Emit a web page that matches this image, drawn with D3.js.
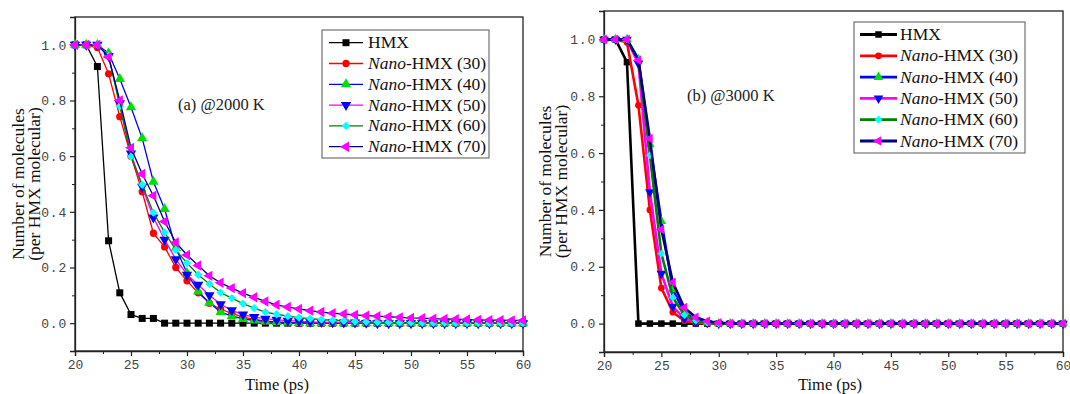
<!DOCTYPE html>
<html><head><meta charset="utf-8">
<script src="https://cdn.jsdelivr.net/npm/d3@7"></script>
<style>body{margin:0;background:#fff}svg{display:block}</style>
</head><body><svg id="c" width="1070" height="394"></svg>
<script>
// ---- data ----
const time = [20,21,22,23,24,25,26,27,28,29,30,31,32,33,34,35,36,37,38,39,40,41,42,43,44,45,46,47,48,49,50,51,52,53,54,55,56,57,58,59,60];
const seriesNames = ["HMX","Nano-HMX (30)","Nano-HMX (40)","Nano-HMX (50)","Nano-HMX (60)","Nano-HMX (70)"];
const xTicks = [20,25,30,35,40,45,50,55,60];
const yTicks = [0.0,0.2,0.4,0.6,0.8,1.0];
const panelTitles = ["(a) @2000 K","(b) @3000 K"];

// (a) 2000 K
const a_HMX = [1,1,0.922,0.296,0.109,0.031,0.017,0.017,0,0,0,0,0,0,0,0,0,0,0,0,0,0,0,0,0,0,0,0,0,0,0,0,0,0,0,0,0,0,0,0,0];
const a_N30 = [1,1,0.99,0.896,0.742,0.6,0.472,0.323,0.274,0.2,0.152,0.109,0.072,0.05,0.035,0.022,0.014,0.008,0.004,0.002,0,0,0,0,0,0,0,0,0,0,0,0,0,0,0,0,0,0,0,0,0];
const a_N40 = [1,1,1,0.97,0.877,0.776,0.664,0.508,0.41,0.27,0.18,0.114,0.073,0.04,0.026,0.015,0.01,0.006,0.004,0.002,0.001,0,0,0,0,0,0,0,0,0,0,0,0,0,0,0,0,0,0,0,0];
const a_N50 = [1,1,1,0.96,0.79,0.61,0.49,0.38,0.3,0.23,0.174,0.138,0.1,0.068,0.046,0.031,0.022,0.016,0.012,0.009,0.007,0.005,0.004,0.003,0.002,0.002,0.001,0,0,0,0,0,0,0,0,0,0,0,0,0,0];
const a_N60 = [1,1,1,0.96,0.78,0.598,0.497,0.397,0.326,0.263,0.216,0.174,0.141,0.11,0.09,0.07,0.054,0.04,0.032,0.025,0.02,0.016,0.013,0.01,0.008,0.006,0.005,0.004,0.003,0.002,0.002,0.001,0.001,0.001,0,0,0,0,0,0,0];
const a_N70 = [1,1,1,0.956,0.8,0.63,0.536,0.458,0.365,0.29,0.245,0.207,0.17,0.145,0.126,0.108,0.093,0.078,0.066,0.058,0.051,0.045,0.04,0.036,0.033,0.03,0.027,0.025,0.023,0.021,0.019,0.018,0.016,0.015,0.014,0.013,0.012,0.011,0.011,0.01,0.01];

// (b) 3000 K
const b_HMX = [1,1,0.92,0,0,0,0,0,0,0,0,0,0,0,0,0,0,0,0,0,0,0,0,0,0,0,0,0,0,0,0,0,0,0,0,0,0,0,0,0,0];
const b_N30 = [1,1,0.99,0.768,0.4,0.125,0.04,0.01,0.003,0,0,0,0,0,0,0,0,0,0,0,0,0,0,0,0,0,0,0,0,0,0,0,0,0,0,0,0,0,0,0,0];
const b_N40 = [1,1,1,0.93,0.63,0.36,0.12,0.04,0.012,0.004,0,0,0,0,0,0,0,0,0,0,0,0,0,0,0,0,0,0,0,0,0,0,0,0,0,0,0,0,0,0,0];
const b_N50 = [1,1,1,0.915,0.463,0.176,0.06,0.018,0.006,0.002,0,0,0,0,0,0,0,0,0,0,0,0,0,0,0,0,0,0,0,0,0,0,0,0,0,0,0,0,0,0,0];
const b_N60 = [1,1,1,0.93,0.592,0.246,0.092,0.03,0.01,0.003,0,0,0,0,0,0,0,0,0,0,0,0,0,0,0,0,0,0,0,0,0,0,0,0,0,0,0,0,0,0,0];
const b_N70 = [1,1,1,0.927,0.651,0.331,0.145,0.056,0.022,0.008,0.003,0,0,0,0,0,0,0,0,0,0,0,0,0,0,0,0,0,0,0,0,0,0,0,0,0,0,0,0,0,0];

// ---- styles ----
const lineColors   = ["#000000","#ff0000","#0000ff","#ff00ff","#008000","#000080"];
const markerColors = ["#000000","#ff0000","#00dd00","#0000ff","#00ffff","#ff00ff"];
const markerKinds  = ["square","circle","up","down","diamond","left"];

const panels = [
  {series:[a_HMX,a_N30,a_N40,a_N50,a_N60,a_N70], x0:75, x1:523, y0:17, y1:351, lw:1.3, ms:7,
   title:{x:178,y:110}, legend:{x:322,y:30,w:167,h:128,row0:42.7,dy:20.8,l0:329,l1:363,tx:368,lw:1.3},
   ylab:[18,34], xlabX:277},
  {series:[b_HMX,b_N30,b_N40,b_N50,b_N60,b_N70], x0:604, x1:1063, y0:11, y1:352, lw:2.6, ms:6.5,
   title:{x:687,y:101}, legend:{x:854,y:22,w:171,h:131,row0:34.5,dy:21.3,l0:860,l1:897,tx:900,lw:2.8},
   ylab:[545,561], xlabX:830}
];

const svg = d3.select("#c");
const serif = "'Liberation Serif','Times New Roman',serif";
const mono = "'Liberation Mono','DejaVu Sans Mono',monospace";

function markerPath(kind, s){
  const a = s*s;
  switch(kind){
    case "square": return {d:d3.symbol(d3.symbolSquare, a)(), r:0};
    case "circle": return {d:d3.symbol(d3.symbolCircle, a*0.85)(), r:0};
    case "up": return {d:d3.symbol(d3.symbolTriangle, a*0.95)(), r:0};
    case "down": return {d:d3.symbol(d3.symbolTriangle, a*0.95)(), r:180};
    case "left": return {d:d3.symbol(d3.symbolTriangle, a*0.95)(), r:-90};
    case "diamond": return {d:d3.symbol(d3.symbolSquare, a*0.7)(), r:45};
  }
}

panels.forEach((p, pi) => {
  const x = d3.scaleLinear().domain([20,60]).range([p.x0,p.x1]);
  const y = d3.scaleLinear().domain([-0.1,1.1]).range([p.y1,p.y0]);
  const g = svg.append("g");

  // frame
  g.append("rect").attr("x",p.x0).attr("y",p.y0).attr("width",p.x1-p.x0).attr("height",p.y1-p.y0)
    .attr("fill","none").attr("stroke","#222").attr("stroke-width",1.3);

  // x axis
  const xa = g.append("g").attr("transform",`translate(0,${p.y1})`)
    .call(d3.axisBottom(x).tickValues(xTicks).tickSize(5).tickPadding(4).tickFormat(d3.format("d")));
  xa.select(".domain").attr("stroke","#222").attr("stroke-width",1.3);
  xa.selectAll("line").attr("stroke","#222").attr("stroke-width",1.2);
  xa.selectAll("text").attr("font-family",mono).attr("font-size",13).attr("fill","#444");
  g.append("g").attr("transform",`translate(0,${p.y1})`)
    .call(d3.axisBottom(x).tickValues([22.5,27.5,32.5,37.5,42.5,47.5,52.5,57.5]).tickSize(3).tickFormat(""))
    .call(s=>{s.select(".domain").remove(); s.selectAll("line").attr("stroke","#222");});

  // y axis
  const ya = g.append("g").attr("transform",`translate(${p.x0},0)`)
    .call(d3.axisLeft(y).tickValues(yTicks).tickSize(5).tickPadding(3).tickFormat(d3.format(".1f")));
  ya.select(".domain").attr("stroke","#222").attr("stroke-width",1.3);
  ya.selectAll("line").attr("stroke","#222").attr("stroke-width",1.2);
  ya.selectAll("text").attr("font-family",mono).attr("font-size",13).attr("fill","#444").attr("letter-spacing","0.8px");
  g.append("g").attr("transform",`translate(${p.x0},0)`)
    .call(d3.axisLeft(y).tickValues([-0.1,0.1,0.3,0.5,0.7,0.9]).tickSize(3).tickFormat(""))
    .call(s=>{s.select(".domain").remove(); s.selectAll("line").attr("stroke","#222");});

  // axis titles
  g.append("text").attr("x",p.xlabX).attr("y",390).attr("text-anchor","middle")
    .attr("font-family",serif).attr("font-size",16.5).attr("fill","#111").text("Time (ps)");
  const cy = (p.y0+p.y1)/2;
  ["Number of molecules","(per HMX molecular)"].forEach((t,i)=>{
    g.append("text").attr("transform",`translate(${p.ylab[i]+6},${cy}) rotate(-90)`).attr("text-anchor","middle")
      .attr("font-family",serif).attr("font-size",17.5).attr("fill","#111").text(t);
  });

  // series
  const line = d3.line().x((d,i)=>x(time[i])).y(d=>y(d));
  p.series.forEach((vals, si) => {
    const sg = g.append("g");
    sg.append("path").datum(vals).attr("d",line).attr("fill","none")
      .attr("stroke",lineColors[si]).attr("stroke-width",p.lw).attr("stroke-linejoin","round");
    const m = markerPath(markerKinds[si], p.ms);
    sg.selectAll("path.m").data(vals).join("path").attr("class","m")
      .attr("d",m.d).attr("fill",markerColors[si])
      .attr("transform",(d,i)=>`translate(${x(time[i])},${y(d)}) rotate(${m.r})`);
  });

  // panel title
  g.append("text").attr("x",p.title.x).attr("y",p.title.y)
    .attr("font-family",serif).attr("font-size",16.5).attr("fill","#222").text(panelTitles[pi]);

  // legend
  const L = p.legend;
  const lg = g.append("g");
  lg.append("rect").attr("x",L.x).attr("y",L.y).attr("width",L.w).attr("height",L.h)
    .attr("fill","#fff").attr("stroke","#555").attr("stroke-width",1);
  seriesNames.forEach((nm, si) => {
    const ry = L.row0 + si*L.dy;
    lg.append("line").attr("x1",L.l0).attr("x2",L.l1).attr("y1",ry).attr("y2",ry)
      .attr("stroke",lineColors[si]).attr("stroke-width",L.lw);
    const m = markerPath(markerKinds[si], p.ms);
    lg.append("path").attr("d",m.d).attr("fill",markerColors[si])
      .attr("transform",`translate(${(L.l0+L.l1)/2},${ry}) rotate(${m.r})`);
    const t = lg.append("text").attr("x",L.tx).attr("y",ry+5.5)
      .attr("font-family",serif).attr("font-size",17.5).attr("fill","#111");
    if (nm.startsWith("Nano-")) {
      t.append("tspan").attr("font-style","italic").text("Nano");
      t.append("tspan").text(nm.slice(4));
    } else t.text(nm);
  });
});
</script>
</body></html>
